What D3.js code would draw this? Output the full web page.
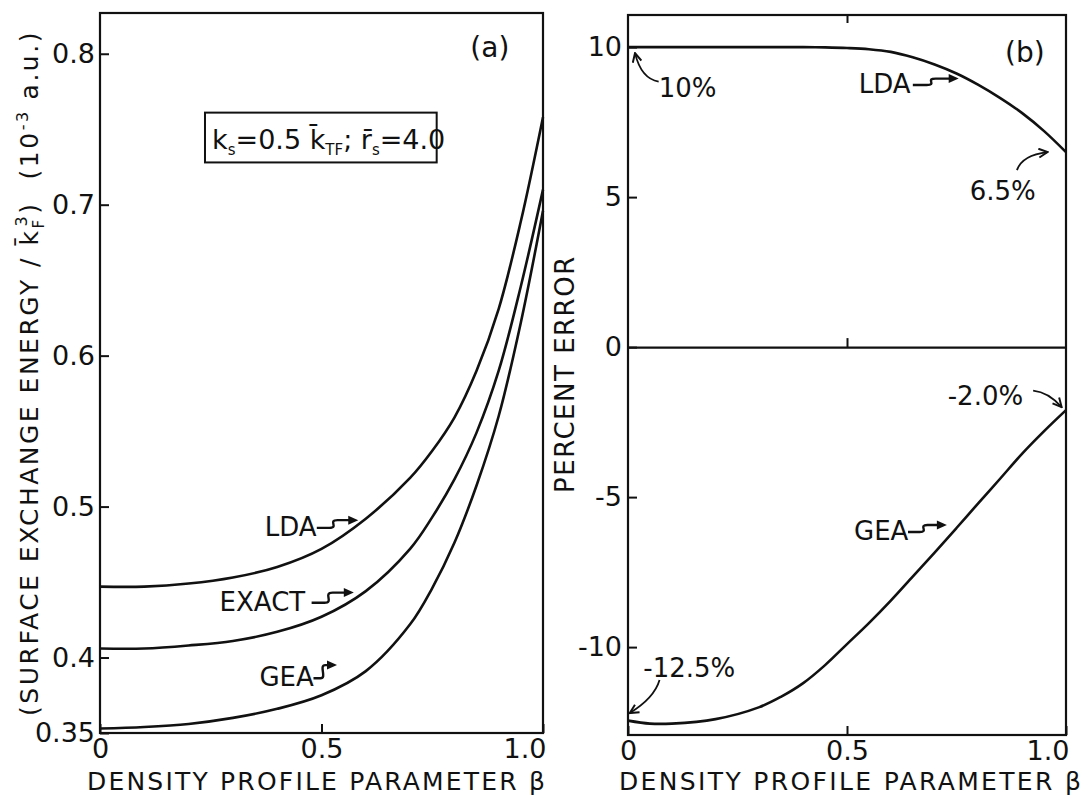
<!DOCTYPE html>
<html>
<head>
<meta charset="utf-8">
<script src="https://cdn.jsdelivr.net/npm/d3@7"></script>
<style>
  body { margin: 0; background: #fff; }
  svg text { font-family: "DejaVu Sans", sans-serif; fill: #111; }
</style>
</head>
<body>
<svg id="chart" width="1088" height="801"></svg>
<script>
// panel (a) : surface exchange energy vs density profile parameter
var betaA  = [0, 0.1, 0.2, 0.3, 0.4, 0.5, 0.6, 0.7, 0.75, 0.8, 0.85, 0.9, 0.95, 1.0];
var ldaA   = [0.447, 0.447, 0.449, 0.453, 0.460, 0.472, 0.492, 0.519, 0.537, 0.559, 0.590, 0.631, 0.689, 0.758];
var exactA = [0.406, 0.406, 0.408, 0.411, 0.417, 0.427, 0.444, 0.472, 0.493, 0.518, 0.549, 0.590, 0.646, 0.710];
var geaA   = [0.353, 0.354, 0.356, 0.360, 0.366, 0.375, 0.391, 0.422, 0.446, 0.476, 0.514, 0.560, 0.622, 0.696];

// panel (b) : percent error
var betaB  = [0, 0.05, 0.1, 0.2, 0.3, 0.35, 0.4, 0.45, 0.5, 0.55, 0.6, 0.65, 0.7, 0.75, 0.8, 0.85, 0.9, 0.95, 1.0];
var ldaErr = [10.0, 10.0, 10.0, 10.0, 10.0, 10.0, 10.0, 9.99, 9.97, 9.93, 9.84, 9.66, 9.42, 9.12, 8.74, 8.3, 7.8, 7.2, 6.5];
var geaErr = [-12.45, -12.55, -12.55, -12.4, -12.0, -11.65, -11.2, -10.6, -9.9, -9.2, -8.45, -7.65, -6.85, -6.03, -5.2, -4.38, -3.55, -2.8, -2.1];

// ticks
var ticksA    = [0.35, 0.4, 0.5, 0.6, 0.7, 0.8];
var ticksErr  = [10, 5, 0, -5, -10];
var ticksBeta = [0, 0.5, 1.0];

var svg = d3.select("#chart");

var xA = d3.scaleLinear().domain([0, 1]).range([100, 543]);
var yA = d3.scaleLinear().domain([0.35, 0.827]).range([733, 13]);
var xB = d3.scaleLinear().domain([0, 1]).range([628, 1066]);
var yB = d3.scaleLinear().domain([-12.93, 11.07]).range([735, 15]);

// arrow heads
var defs = svg.append("defs");
defs.append("marker").attr("id", "open").attr("viewBox", "0 0 10 10")
    .attr("refX", 9).attr("refY", 5).attr("markerWidth", 11).attr("markerHeight", 11)
    .attr("markerUnits", "userSpaceOnUse").attr("orient", "auto")
  .append("path").attr("d", "M1,1 L9,5 L1,9").attr("fill", "none")
    .attr("stroke", "#111").attr("stroke-width", 1.8);

function frame(x, y) {
    svg.append("rect")
        .attr("x", x.range()[0]).attr("y", y.range()[1])
        .attr("width", x.range()[1] - x.range()[0])
        .attr("height", y.range()[0] - y.range()[1])
        .attr("fill", "none").attr("stroke", "#111").attr("stroke-width", 2.2);
}

function styleAxis(g, size) {
    g.attr("font-family", "DejaVu Sans").attr("font-size", size);
    g.selectAll(".tick line").attr("stroke", "#111").attr("stroke-width", 2);
    g.selectAll(".tick text").attr("fill", "#111");
}

function fmtBeta(d) { return d === 0 ? "0" : d.toFixed(1); }

// text with sub / superscripts
function richText(sel, parts) {
    parts.forEach(function (p) {
        var t = sel.append("tspan").text(p.t);
        if (p.dy) t.attr("dy", p.dy);
        if (p.dx) t.attr("dx", p.dx);
        if (p.fs) t.attr("font-size", p.fs);
    });
    return sel;
}

// "LABEL -S->" style pointer: from (x0,y0) to the tip (x1,y1)
function squiggle(x0, y0, x1, y1) {
    var w = x1 - x0;
    var xa = x0 + w * 0.3, xb = x0 + w * 0.5;
    var p = "M" + x0 + "," + y0 + " H" + xa +
        " C" + (xb + 2) + "," + y0 + " " + (xa - 2) + "," + y1 + " " + xb + "," + y1 +
        " H" + (x1 - 6);
    svg.append("path").attr("d", p).attr("fill", "none")
        .attr("stroke", "#111").attr("stroke-width", 2.4);
    svg.append("path")
        .attr("d", "M" + x1 + "," + y1 + " L" + (x1 - 10) + "," + (y1 - 4.5) + " L" + (x1 - 10) + "," + (y1 + 4.5) + " Z")
        .attr("fill", "#111");
}

function curvedArrow(p0, c, p1) {
    svg.append("path")
        .attr("d", "M" + p0[0] + "," + p0[1] + " Q" + c[0] + "," + c[1] + " " + p1[0] + "," + p1[1])
        .attr("fill", "none").attr("stroke", "#111").attr("stroke-width", 1.8)
        .attr("marker-end", "url(#open)");
}

function label(x, y, txt, size, anchor) {
    return svg.append("text").attr("x", x).attr("y", y)
        .attr("font-size", size || 26).attr("text-anchor", anchor || "start").text(txt);
}

function xTitle(cx, len) {
    svg.append("text").attr("x", cx - len / 2).attr("y", 790)
        .attr("font-size", 25).attr("textLength", len).attr("lengthAdjust", "spacing")
        .text("DENSITY PROFILE PARAMETER \u03B2");
}

// ---------------- panel (a) ----------------
frame(xA, yA);

var gyA = svg.append("g").attr("transform", "translate(" + xA(0) + ",0)")
    .call(d3.axisLeft(yA).tickValues(ticksA).tickSize(-9).tickPadding(5)
        .tickFormat(function (d) { return d === 0.35 ? "0.35" : d.toFixed(1); }));
gyA.select(".domain").remove();
styleAxis(gyA, 27);

var gxA = svg.append("g").attr("transform", "translate(0," + yA(0.35) + ")")
    .call(d3.axisBottom(xA).tickValues(ticksBeta).tickSize(-9).tickPadding(6).tickFormat(fmtBeta));
gxA.select(".domain").remove();
styleAxis(gxA, 27);
gxA.selectAll(".tick text").filter(function (d) { return d === 1; })
    .attr("text-anchor", "end").attr("dx", 3);

var lineA = function (vals) {
    return d3.line().curve(d3.curveCatmullRom.alpha(0.5))
        .x(function (d, i) { return xA(betaA[i]); })
        .y(function (d) { return yA(d); })(vals);
};
[ldaA, exactA, geaA].forEach(function (s) {
    svg.append("path").attr("d", lineA(s)).attr("fill", "none")
        .attr("stroke", "#111").attr("stroke-width", 2.6);
});

// axis titles (a)
var tA = svg.append("text")
    .attr("transform", "translate(38," + ((yA(0.35) + yA(0.827)) / 2) + ") rotate(-90)")
    .attr("text-anchor", "middle").attr("font-size", 25).attr("letter-spacing", 2.5);
richText(tA, [
    { t: "(SURFACE EXCHANGE ENERGY / k\u0304" },
    { t: "F", dy: 6, fs: 15 },
    { t: "3", dy: -17, dx: -9, fs: 16 },
    { t: ")", dy: 11 },
    { t: "(10", dx: 22 },
    { t: "-3", dy: -10, fs: 16 },
    { t: "a.u.)", dy: 10, dx: 10 }
]);

xTitle(316, 458);

label(xA(0.88), yA(0.798), "(a)", 28, "middle");

// parameter box
svg.append("rect").attr("x", xA(0.237)).attr("y", yA(0.761))
    .attr("width", xA(0.76) - xA(0.237)).attr("height", yA(0.728) - yA(0.761))
    .attr("fill", "none").attr("stroke", "#111").attr("stroke-width", 2);
var tb = svg.append("text").attr("x", xA(0.253)).attr("y", yA(0.737)).attr("font-size", 27);
richText(tb, [
    { t: "k" }, { t: "s", dy: 6, fs: 15 },
    { t: "=0.5 k\u0304", dy: -6 }, { t: "TF", dy: 6, fs: 15 },
    { t: "; r\u0304", dy: -6 }, { t: "s", dy: 6, fs: 15 },
    { t: "=4.0", dy: -6 }
]);

// curve labels (a)
label(xA(0.372), yA(0.4806), "LDA", 26);
squiggle(xA(0.372) + 52, yA(0.4806) - 8, xA(0.583), yA(0.491));
label(xA(0.27), yA(0.431), "EXACT", 26);
squiggle(xA(0.27) + 92, yA(0.431) - 8, xA(0.573), yA(0.443));
label(xA(0.36), yA(0.381), "GEA", 26);
squiggle(xA(0.36) + 54, yA(0.381) - 8, xA(0.535), yA(0.395));

// ---------------- panel (b) ----------------
frame(xB, yB);

var gyB = svg.append("g").attr("transform", "translate(" + xB(0) + ",0)")
    .call(d3.axisLeft(yB).tickValues(ticksErr).tickSize(-9).tickPadding(6)
        .tickFormat(function (d) { return String(d); }));
gyB.select(".domain").remove();
styleAxis(gyB, 27);

var gxB = svg.append("g").attr("transform", "translate(0," + yB(-12.93) + ")")
    .call(d3.axisBottom(xB).tickValues(ticksBeta).tickSize(-9).tickPadding(6).tickFormat(fmtBeta));
gxB.select(".domain").remove();
styleAxis(gxB, 27);
gxB.selectAll(".tick text").filter(function (d) { return d === 1; })
    .attr("text-anchor", "end").attr("dx", 3);

// top tick
var gtB = svg.append("g").attr("transform", "translate(0," + yB(11.07) + ")")
    .call(d3.axisTop(xB).tickValues([0.5]).tickSize(-8).tickFormat(""));
gtB.select(".domain").remove();
styleAxis(gtB, 10);

// zero line with its tick
var gzB = svg.append("g").attr("transform", "translate(0," + yB(0) + ")")
    .call(d3.axisBottom(xB).tickValues([0.5]).tickSize(-9).tickSizeOuter(0).tickFormat(""));
gzB.select(".domain").attr("stroke", "#111").attr("stroke-width", 2.4);
styleAxis(gzB, 10);

var lineB = function (vals) {
    return d3.line().curve(d3.curveCatmullRom.alpha(0.5))
        .x(function (d, i) { return xB(betaB[i]); })
        .y(function (d) { return yB(d); })(vals);
};
[ldaErr, geaErr].forEach(function (s) {
    svg.append("path").attr("d", lineB(s)).attr("fill", "none")
        .attr("stroke", "#111").attr("stroke-width", 2.6);
});

svg.append("text")
    .attr("transform", "translate(574," + yB(-0.9) + ") rotate(-90)")
    .attr("text-anchor", "middle").attr("font-size", 26).attr("letter-spacing", 1.5)
    .text("PERCENT ERROR");

xTitle(850, 462);

label(xB(0.906), yB(9.5), "(b)", 28, "middle");

// annotations (b)
label(xB(0.07), yB(8.33), "10%", 26);
curvedArrow([xB(0.07), yB(8.85)], [xB(0.03), yB(8.95)], [xB(0.016), yB(9.8)]);

label(xB(0.527), yB(8.47), "LDA", 26);
squiggle(xB(0.527) + 54, yB(8.47) - 8, xB(0.755), yB(8.95));

label(xB(0.78), yB(4.9), "6.5%", 26);
curvedArrow([xB(0.888), yB(5.9)], [xB(0.9), yB(6.4)], [xB(0.958), yB(6.5)]);

label(xB(0.73), yB(-1.93), "-2.0%", 26);
curvedArrow([xB(0.925), yB(-1.45)], [xB(0.96), yB(-1.5)], [xB(0.99), yB(-2.0)]);

label(xB(0.516), yB(-6.43), "GEA", 26);
squiggle(xB(0.516) + 54, yB(-6.43) - 8, xB(0.728), yB(-5.93));

label(xB(0.035), yB(-11.0), "-12.5%", 26);
curvedArrow([xB(0.072), yB(-11.1)], [xB(0.06), yB(-11.7)], [xB(0.004), yB(-12.2)]);
</script>
</body>
</html>
